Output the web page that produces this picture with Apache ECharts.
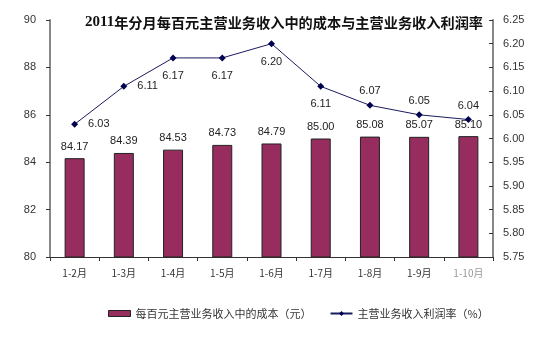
<!DOCTYPE html>
<html><head><meta charset="utf-8">
<script src="https://cdn.jsdelivr.net/npm/echarts@6/dist/echarts.min.js"></script>
<style>html,body{margin:0;padding:0;background:#fff}#c{width:550px;height:344px}</style>
</head><body><div id="c"></div>
<script>
var categories = ['1-2月','1-3月','1-4月','1-5月','1-6月','1-7月','1-8月','1-9月','1-10月'];
var costValues = [84.17, 84.39, 84.53, 84.73, 84.79, 85.00, 85.08, 85.07, 85.10];
var profitValues = [6.03, 6.11, 6.17, 6.17, 6.20, 6.11, 6.07, 6.05, 6.04];
var leftTicks = [80, 82, 84, 86, 88, 90];
var rightTicks = [5.75, 5.80, 5.85, 5.90, 5.95, 6.00, 6.05, 6.10, 6.15, 6.20, 6.25];
var labelPos = ['right','right','bottom','bottom','bottom','bottom','top','top','top'];

var chart = echarts.init(document.getElementById('c'));
var font = 'Liberation Sans, Arial, sans-serif';
chart.setOption({
  animation: false,
  title: {
    text: '{a|2011}{b|年分月每百元主营业务收入中的成本与主营业务收入利润率}',
    left: 279, top: 10, textAlign: 'center',
    textStyle: {
      rich: {
        a: {fontSize: 15, fontWeight: 'bold', color: '#111', fontFamily: 'Liberation Serif'},
        b: {fontSize: 14.2, fontWeight: 'bold', color: '#111', fontFamily: 'Noto Sans CJK SC'}
      }
    }
  },
  legend: {
    top: 303, left: 103, itemGap: 18,
    textStyle: {fontSize: 11, color: '#333', fontFamily: 'Noto Sans CJK SC'},
    data: [
      {name: '每百元主营业务收入中的成本（元）', icon: 'rect', itemStyle: {borderColor: '#222', borderWidth: 1}},
      {name: '主营业务收入利润率（%）'}
    ],
    itemWidth: 22, itemHeight: 6
  },
  grid: {left: 50, right: 57, top: 20, bottom: 87},
  xAxis: {
    type: 'category', data: categories,
    axisLine: {lineStyle: {color: '#333', width: 1}},
    axisTick: {show: true, length: 4, lineStyle: {color: '#333'}},
    axisLabel: {interval: 0, fontSize: 10, color: '#333', margin: 11, fontFamily: 'Noto Sans CJK SC',
      formatter: function(v){return v === '1-10月' ? '{l|' + v + '}' : v;},
      rich: {l: {fontSize: 10, color: '#999', fontFamily: 'Noto Sans CJK SC'}}}
  },
  yAxis: [{
    type: 'value', min: 80, max: 90, interval: 2,
    axisLine: {show: true, lineStyle: {color: '#888', width: 2}},
    axisTick: {show: true, length: 4, lineStyle: {color: '#333'}},
    splitLine: {show: false},
    axisLabel: {fontSize: 11, color: '#333', margin: 14, fontFamily: font}
  }, {
    type: 'value', min: 5.75, max: 6.25, interval: 0.05,
    axisLine: {show: true, lineStyle: {color: '#888', width: 2}},
    axisTick: {show: true, inside: true, length: 4, lineStyle: {color: '#333'}},
    splitLine: {show: false},
    axisLabel: {fontSize: 11, color: '#333', margin: 10, fontFamily: font,
      formatter: function(v){return v.toFixed(2);}}
  }],
  series: [{
    name: '每百元主营业务收入中的成本（元）', type: 'bar', yAxisIndex: 0,
    data: costValues, barWidth: 20,
    itemStyle: {color: '#962d5e', borderColor: '#222', borderWidth: 1},
    label: {show: true, position: 'top', distance: 6, fontSize: 11, color: '#222', fontFamily: font,
      formatter: function(p){return p.value.toFixed(2);}}
  }, {
    name: '主营业务收入利润率（%）', type: 'line', yAxisIndex: 1,
    data: profitValues.map(function(v, i){
      var p = labelPos[i];
      return {value: v, label: {position: p, distance: p === 'right' ? 10 : (p === 'top' ? 5 : 9)}};
    }),
    symbol: 'diamond', symbolSize: 7,
    lineStyle: {color: '#1a1a5e', width: 1},
    itemStyle: {color: '#000050'},
    label: {show: true, fontSize: 11, color: '#222', fontFamily: font,
      formatter: function(p){return p.value.toFixed(2);}}
  }]
});
</script></body></html>
